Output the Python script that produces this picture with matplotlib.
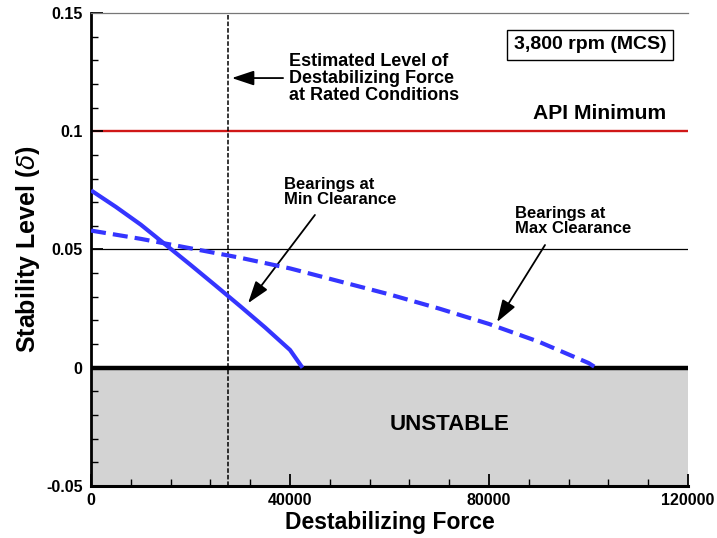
import matplotlib
matplotlib.use("Agg")
import matplotlib.pyplot as plt
import numpy as np


force_min = [0, 5000, 10000, 15000, 20000, 25000, 30000, 35000, 40000, 42500]
delta_min = [0.075, 0.068, 0.0605, 0.052, 0.0435, 0.0348, 0.026, 0.017, 0.0075, 0.0]

force_max = [0, 10000, 20000, 30000, 40000, 50000, 60000, 70000, 80000, 90000, 100000, 101500]
delta_max = [0.058, 0.0545, 0.0505, 0.0465, 0.042, 0.0365, 0.031, 0.025, 0.0185, 0.011, 0.002, 0.0]

rated_force = 27500
api_min = 0.1
ref_level = 0.05

xticks = [0, 40000, 80000, 120000]
xtick_labels = ["0", "40000", "80000", "120000"]
yticks = [-0.05, 0, 0.05, 0.1, 0.15]
ytick_labels = ["-0.05", "0", "0.05", "0.1", "0.15"]

BLUE = "#3535ff"
RED = "#d01818"


def main():
    plt.rcParams["font.family"] = ["Liberation Sans", "DejaVu Sans"]
    plt.rcParams["font.weight"] = "bold"
    plt.rcParams["mathtext.fontset"] = "custom"
    plt.rcParams["mathtext.it"] = "DejaVu Sans:italic:normal"

    fig = plt.figure(figsize=(7.17, 5.38), dpi=100)
    ax = fig.add_axes([0.127, 0.0967, 0.8326, 0.8791])
    ax.set_xlim(0, 120000)
    ax.set_ylim(-0.05, 0.15)

    ax.axhspan(-0.05, 0, color="#d3d3d3", lw=0, zorder=0)
    ax.axhline(0, color="k", lw=3.2, zorder=3)
    ax.axhline(ref_level, color="k", lw=0.9, zorder=1)
    ax.axhline(api_min, color=RED, lw=1.7, zorder=1)
    ax.axvline(rated_force, color="k", lw=1.1, dashes=(3, 1.3), zorder=2)

    ax.plot(force_min, delta_min, color=BLUE, lw=3, solid_capstyle="butt", zorder=4)
    ax.plot(force_max, delta_max, color=BLUE, lw=3, dashes=(3.6, 1.7), zorder=4)

    arrow = dict(arrowstyle="-|>,head_length=0.9,head_width=0.3", color="k",
                 lw=1.3, mutation_scale=15, shrinkA=0, shrinkB=0)

    ax.text(39800, 0.1225, "Estimated Level of\nDestabilizing Force\nat Rated Conditions",
            ha="left", va="center", fontsize=13, fontweight="bold", linespacing=1.0)
    ax.annotate("", xy=(28300, 0.1225), xytext=(38600, 0.1225), arrowprops=arrow)

    ax.text(100300, 0.1365, "3,800 rpm (MCS)", ha="center", va="center",
            fontsize=14, fontweight="bold",
            bbox=dict(boxstyle="square,pad=0.35", fc="white", ec="k", lw=1))
    ax.text(102200, 0.1077, "API Minimum", ha="center", va="center",
            fontsize=15.2, fontweight="bold")

    ax.text(38800, 0.0742, "Bearings at\nMin Clearance", ha="left", va="center",
            fontsize=12, fontweight="bold", linespacing=1.0)
    ax.annotate("", xy=(31560, 0.0273), xytext=(45000, 0.0646), arrowprops=arrow)

    ax.text(85200, 0.0620, "Bearings at\nMax Clearance", ha="left", va="center",
            fontsize=12, fontweight="bold", linespacing=1.0)
    ax.annotate("", xy=(81600, 0.0193), xytext=(91250, 0.0519), arrowprops=arrow)

    ax.text(72000, -0.0238, "UNSTABLE", ha="center", va="center",
            fontsize=16, fontweight="bold")

    ax.set_xticks(xticks)
    ax.set_xticklabels(xtick_labels)
    ax.set_yticks(yticks)
    ax.set_yticklabels(ytick_labels)
    ax.set_xticks(np.arange(0, 120001, 8000), minor=True)
    ax.set_yticks(np.arange(-0.05, 0.1501, 0.01), minor=True)
    ax.tick_params(which="major", direction="in", length=8.5, width=1.3,
                   labelsize=11.5, top=False, right=False)
    ax.tick_params(which="minor", direction="in", length=5, width=1.0,
                   top=False, right=False)
    ax.tick_params(axis="x", pad=5)
    ax.tick_params(axis="y", pad=6)
    for lab in ax.get_xticklabels() + ax.get_yticklabels():
        lab.set_fontweight("bold")

    ax.spines["right"].set_visible(False)
    ax.spines["top"].set_color("#777777")
    ax.spines["top"].set_linewidth(0.9)
    ax.spines["left"].set_linewidth(2.0)
    ax.spines["bottom"].set_linewidth(2.2)

    ax.set_xlabel("Destabilizing Force", fontsize=16.5, fontweight="bold", labelpad=2)
    ax.set_ylabel("Stability Level ($\\delta$)", fontsize=18, fontweight="bold", labelpad=3)

    fig.savefig("out.png", dpi=100)
    plt.close(fig)


if __name__ == "__main__":
    main()
